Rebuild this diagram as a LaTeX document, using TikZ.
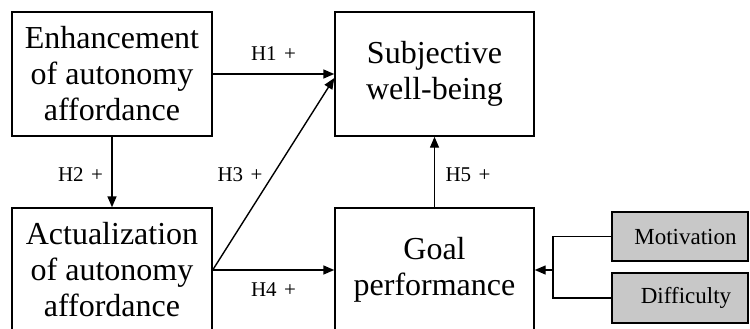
\documentclass[tikz,border=0pt]{standalone}
\usepackage{fontspec}
\setmainfont{Liberation Serif}
\usetikzlibrary{arrows.meta}
\definecolor{modfill}{RGB}{200,200,200}
\begin{document}
\begin{tikzpicture}[x=1pt,y=-1pt,
  construct/.style={draw, line width=1.4pt, minimum width=200pt, minimum height=124pt,
    inner sep=0pt, align=center, font=\fontsize{32}{36}\selectfont},
  moderator/.style={draw, line width=1.4pt, fill=modfill, minimum width=136pt,
    minimum height=49pt, inner sep=0pt, font=\fontsize{23}{26}\selectfont},
  path/.style={line width=1.4pt, -{Triangle[length=11pt,width=9pt]}},
  plain/.style={line width=1.4pt},
  hyp/.style={inner sep=0pt, font=\fontsize{21}{23}\selectfont}]
\useasboundingbox (0,0) rectangle (750,329);
\clip (0,0) rectangle (750,329);

% constructs
\node[construct] (enh)  at (112,74)    {Enhancement\\of autonomy\\affordance};
\node[construct] (act)  at (112,270)   {Actualization\\of autonomy\\affordance};
\node[construct, minimum width=199pt] (swb)  at (434.5,74)  {Subjective\\well-being};
\node[construct, minimum width=199pt] (goal) at (434.5,270) {Goal\\performance};

% moderators
\node[moderator] (mot) at (680,236.5) {\hspace*{11pt}Motivation};
\node[moderator, minimum height=50pt] (dif) at (680,298) {\hspace*{12pt}Difficulty};

% hypothesised paths
\draw[path] (enh.east) -- (swb.west);
\draw[path] (enh.south) -- (act.north);
\draw[path] (act.east) -- ([yshift=-4pt]swb.west);
\draw[path] (act.east) -- (goal.west);
\draw[path] (goal.north) -- (swb.south);

% moderation bracket
\coordinate (j) at (553,270);
\draw[plain] (mot.west) -| (j) |- (dif.west);
\draw[path] (j) -- (goal.east);

% path labels
\node[hyp] (h1) at (273.5,54)  {H1\hspace{0.35em}+};
\node[hyp] (h2) at (80.5,175)  {H2\hspace{0.35em}+};
\node[hyp] (h3) at (240,175)   {H3\hspace{0.35em}+};
\node[hyp] (h4) at (273.5,289.5) {H4\hspace{0.35em}+};
\node[hyp] (h5) at (468,175)   {H5\hspace{0.35em}+};
\end{tikzpicture}
\end{document}
